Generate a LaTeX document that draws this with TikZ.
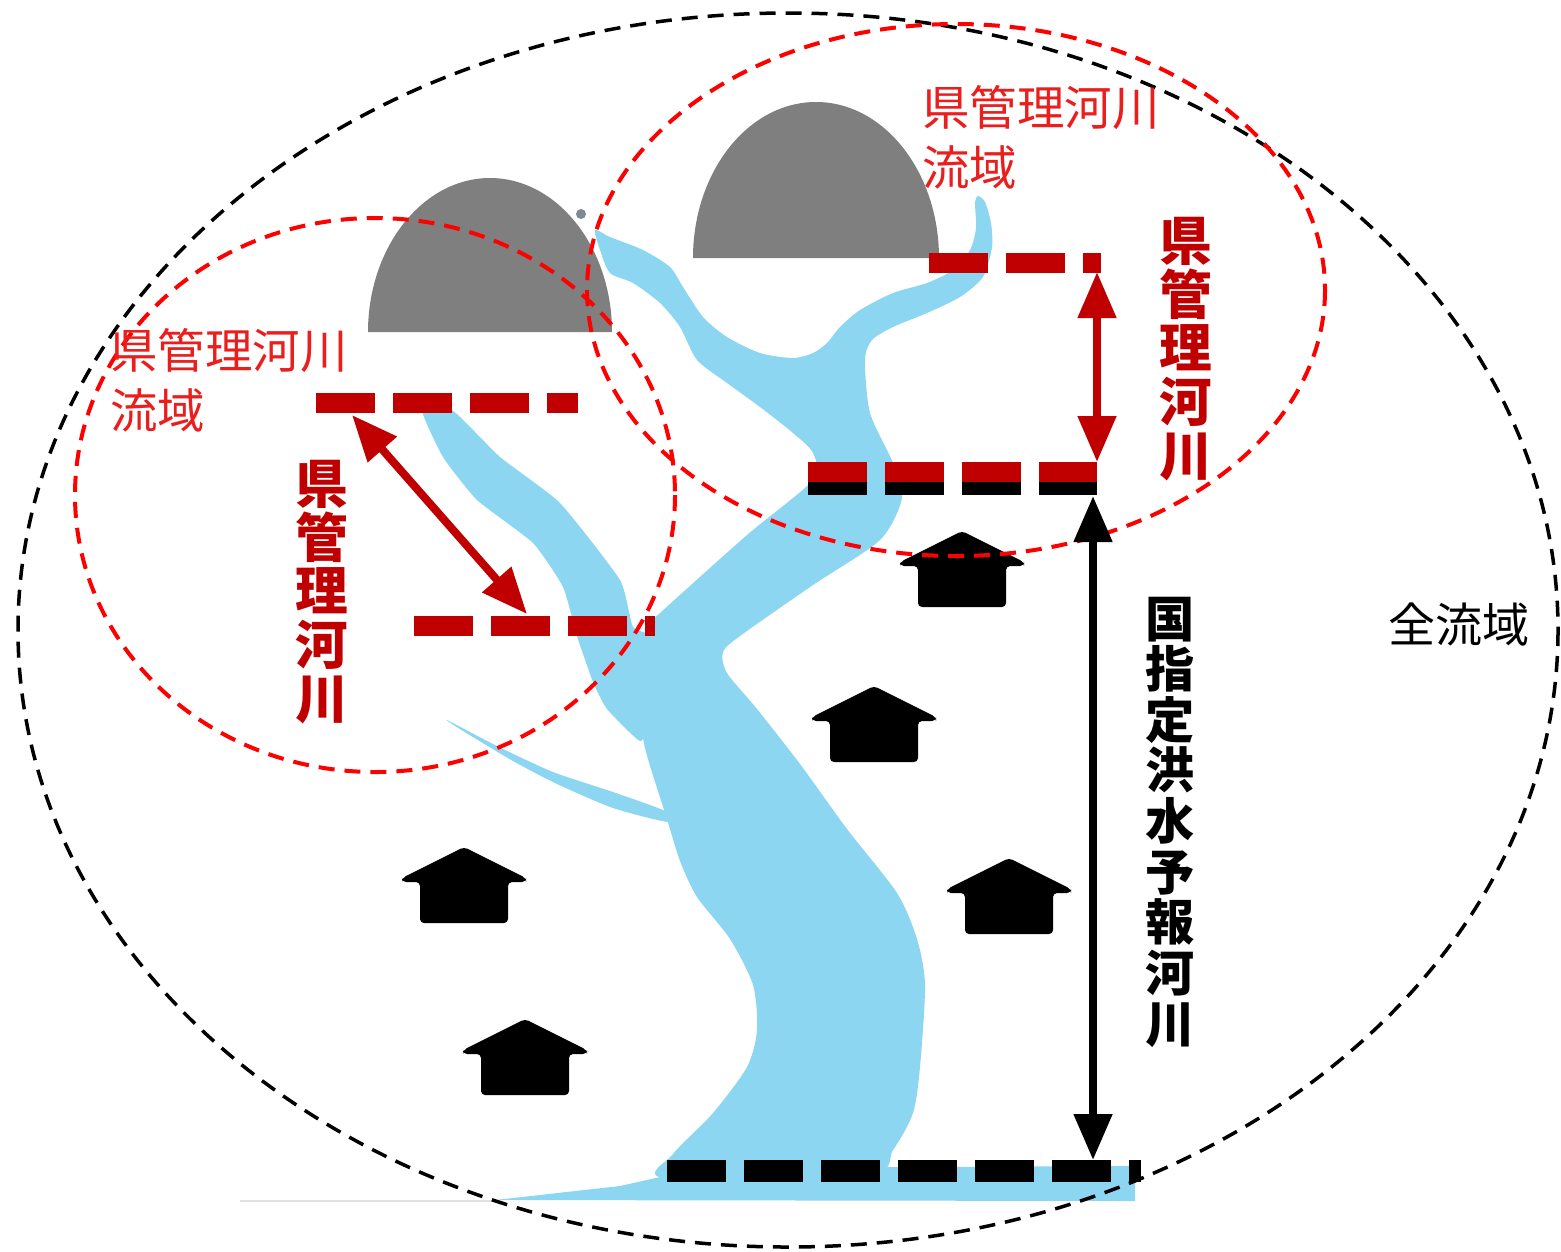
\documentclass[tikz,border=0pt]{standalone}
\usepackage{fontspec}
\setmainfont{Noto Sans CJK JP}
\usetikzlibrary{arrows.meta, positioning}

\definecolor{river}{RGB}{140,214,241}
\definecolor{mount}{RGB}{127,127,127}
\definecolor{darkred}{RGB}{192,0,0}
\definecolor{labelred}{RGB}{235,30,30}

\tikzset{
    house/.pic = {
        \fill[black, rounded corners = 0.4mm]
            (0,0) -- (62,31) -- (62,35) -- (44,35) -- (44,76)
            -- (-44,76) -- (-44,35) -- (-62,35) -- (-62,31) -- cycle;
    }
}

\begin{document}
\begin{tikzpicture} [
        x = 0.1mm,
        y = -0.1mm,
        basin/.style = {black, line width = 0.35mm,
                dash pattern = on 1.6mm off 1mm},
        subbasin/.style = {red, line width = 0.4mm,
                dash pattern = on 1.6mm off 1mm},
        level/.style = {line width = 2mm,
                dash pattern = on 5.9mm off 1.8mm},
        span/.style = {line width = 0.8mm,
                {Triangle[width = 3.7mm, length = 4.6mm]}-{Triangle[width = 3.7mm, length = 4.6mm]}},
        vlabel/.style = {align = center, inner sep = 0,
                font = \bfseries\fontsize{15pt}{15.3pt}\selectfont},
        hlabel/.style = {align = left, inner sep = 0, text = labelred,
                font = \fontsize{13.5pt}{17pt}\selectfont}]

    \useasboundingbox (0,0) rectangle (1561,1251);

    % river network
    \fill[river] plot[smooth cycle, tension = 0.45] coordinates {
        (595,230) (610,237) (643,250) (670,267) (683,287) (703,317)
        (727,337) (760,353) (793,358) (813,353) (827,343) (840,327)
        (860,310) (893,293) (927,283) (953,270) (970,250) (976,228)
        (975,203) (978,196) (985,202) (991,223) (992,247) (983,277)
        (960,297) (927,313) (893,327) (872,340) (865,360) (870,413)
        (893,463) (902,498) (880,540) (813,585) (740,636) (723,652)
        (727,673) (757,709) (800,764) (847,829) (897,893) (917,939)
        (925,985) (920,1067) (913,1113) (893,1150) (868,1175)
        (665,1178) (673,1154) (713,1113) (747,1067) (757,1030)
        (753,985) (730,939) (697,897) (680,861) (667,819) (645,748)
        (640,700) (647,627) (660,613) (747,535) (813,480) (813,453)
        (793,433) (760,407) (727,383) (697,360) (680,327) (660,303)
        (633,283) (610,273) (600,250)};
    \fill[river] plot[smooth cycle, tension = 0.3] coordinates {
        (422,410) (452,410) (500,457) (560,503) (620,580) (633,627)
        (655,640) (650,720) (640,741) (607,709) (593,682) (577,636)
        (563,587) (533,543) (477,500) (443,457)};
    \fill[river] plot[smooth cycle, tension = 0.4] coordinates {
        (447,720) (497,746) (553,772) (613,792) (665,811) (668,822)
        (613,808) (557,784) (513,761) (463,731)};
    \fill[river] (495,1200) -- (620,1186) -- (700,1168) -- (1135,1166)
        -- (1135,1201) -- cycle;
    \draw[black!12, line width = 0.2mm] (240,1201) -- (495,1201);

    % mountains
    \fill[mount] (368,332) .. controls (368,247) and (423,178) .. (490,178)
        .. controls (557,178) and (612,247) .. (612,332) -- cycle;
    \fill[mount] (693,258) .. controls (693,172) and (748,102) .. (816,102)
        .. controls (884,102) and (939,172) .. (939,258) -- cycle;
    \fill[black!45!cyan!30!gray] (581,214) circle [radius = 5];

    % houses
    \pic at (962,531) {house};
    \pic at (874,686) {house};
    \pic at (464,847) {house};
    \pic at (1009,858) {house};
    \pic at (525,1019) {house};

    % catchments
    \draw[basin] (788,630) ellipse [x radius = 770, y radius = 617];
    \draw[subbasin] (375,495) ellipse [x radius = 300, y radius = 277];
    \draw[subbasin] (956,290) ellipse [x radius = 369, y radius = 266];

    % reference levels
    \coordinate (top_r) at (1101,263);
    \coordinate (mid_r) at (1097,472);
    \coordinate (top_l) at (578,403);
    \coordinate (low_l) at (655,626);
    \coordinate (mouth) at (1141,1171);

    \draw[level, darkred] (929,263) -- (top_r);
    \draw[level, black, line width = 1.3mm] (808,488.5) -- (1097,488.5);
    \draw[level, darkred] (808,472) -- (mid_r);
    \draw[level, darkred] (316,403) -- (top_l);
    \draw[level, darkred] (414,626) -- (low_l);
    \draw[level, black, line width = 2.2mm] (667,1171) -- (mouth);

    % spans
    \coordinate (r_up) at (1097,272);
    \coordinate (r_down) at (1097,462);
    \coordinate (l_up) at (352,415);
    \coordinate (l_down) at (527,614);
    \coordinate (n_up) at (1093,496);
    \coordinate (n_down) at (1093,1160);

    \draw[span, darkred] (r_up) -- (r_down);
    \draw[span, darkred] (l_up) -- (l_down);
    \draw[span, black] (n_up) -- (n_down);

    % labels
    \node [
        vlabel,
        text = darkred
    ] (pref_r) at (1186,349) {県\\管\\理\\河\\川};

    \node [
        vlabel,
        text = darkred
    ] (pref_l) at (322,592) {県\\管\\理\\河\\川};

    \node [
        vlabel,
        font = \bfseries\fontsize{14pt}{14.4pt}\selectfont
    ] (national) at (1170,822) {国\\指\\定\\洪\\水\\予\\報\\河\\川};

    \node [hlabel] (basin_r) at (1041,137) {県管理河川\\流域};
    \node [hlabel] (basin_l) at (229,380) {県管理河川\\流域};

    \node [
        inner sep = 0,
        font = \fontsize{13.4pt}{16pt}\selectfont
    ] (whole) at (1459,625) {全流域};

\end{tikzpicture}
\end{document}
